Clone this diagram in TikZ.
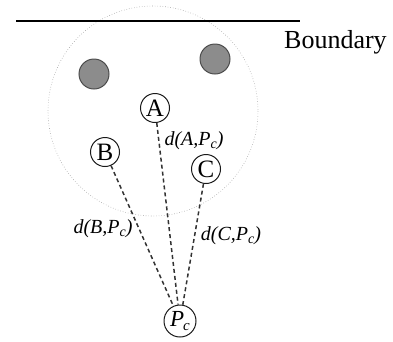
\documentclass[tikz,border=0pt]{standalone}
\usepackage{fontspec}
\setmainfont{Liberation Serif}
\begin{document}
\begin{tikzpicture}[x=1pt,y=-1pt,
  pnode/.style={circle,draw=black!90,line width=1pt,inner sep=0pt,minimum size=29pt,font=\fontsize{25}{27}\selectfont},
  obst/.style={circle,draw=black!70,fill=black!45,line width=1pt,inner sep=0pt,minimum size=30pt},
  dline/.style={draw=black!80,line width=1.5pt,dash pattern=on 4pt off 3pt},
  lbl/.style={font=\fontsize{20}{22}\selectfont\itshape,inner sep=0pt}]
\useasboundingbox (0,0) rectangle (393,341);
\draw[black!35,line width=0.6pt,dotted] (153,111) circle[radius=105];
\draw[line width=2.8pt] (16,21) coordinate (bl) -- (300,21) coordinate (br);
\node[font=\fontsize{26}{28}\selectfont,anchor=west,inner sep=0pt] (bnd) at (284,42) {Boundary};
\node[obst] (o1) at (94,74) {};
\node[obst] (o2) at (215,59) {};
\node[pnode] (A) at (155,108) {A};
\node[pnode] (B) at (105,152) {B};
\node[pnode] (C) at (206,169) {C};
\node[pnode,minimum size=32pt] (Pc) at (180,321) {\fontsize{23}{25}\selectfont\itshape P\kern-1pt\raisebox{-4pt}{\fontsize{15}{17}\selectfont c}};
\draw[dline] (A) -- (Pc);
\draw[dline] (B) -- (Pc);
\draw[dline] (C) -- (Pc);
\node[lbl] (la) at (194,141) {d(A,P\raisebox{-3pt}{\fontsize{14}{16}\selectfont c})};
\node[lbl] (lb) at (103,229) {d(B,P\raisebox{-3pt}{\fontsize{14}{16}\selectfont c})};
\node[lbl] (lc) at (231,236) {d(C,P\raisebox{-3pt}{\fontsize{14}{16}\selectfont c})};
\end{tikzpicture}
\end{document}
